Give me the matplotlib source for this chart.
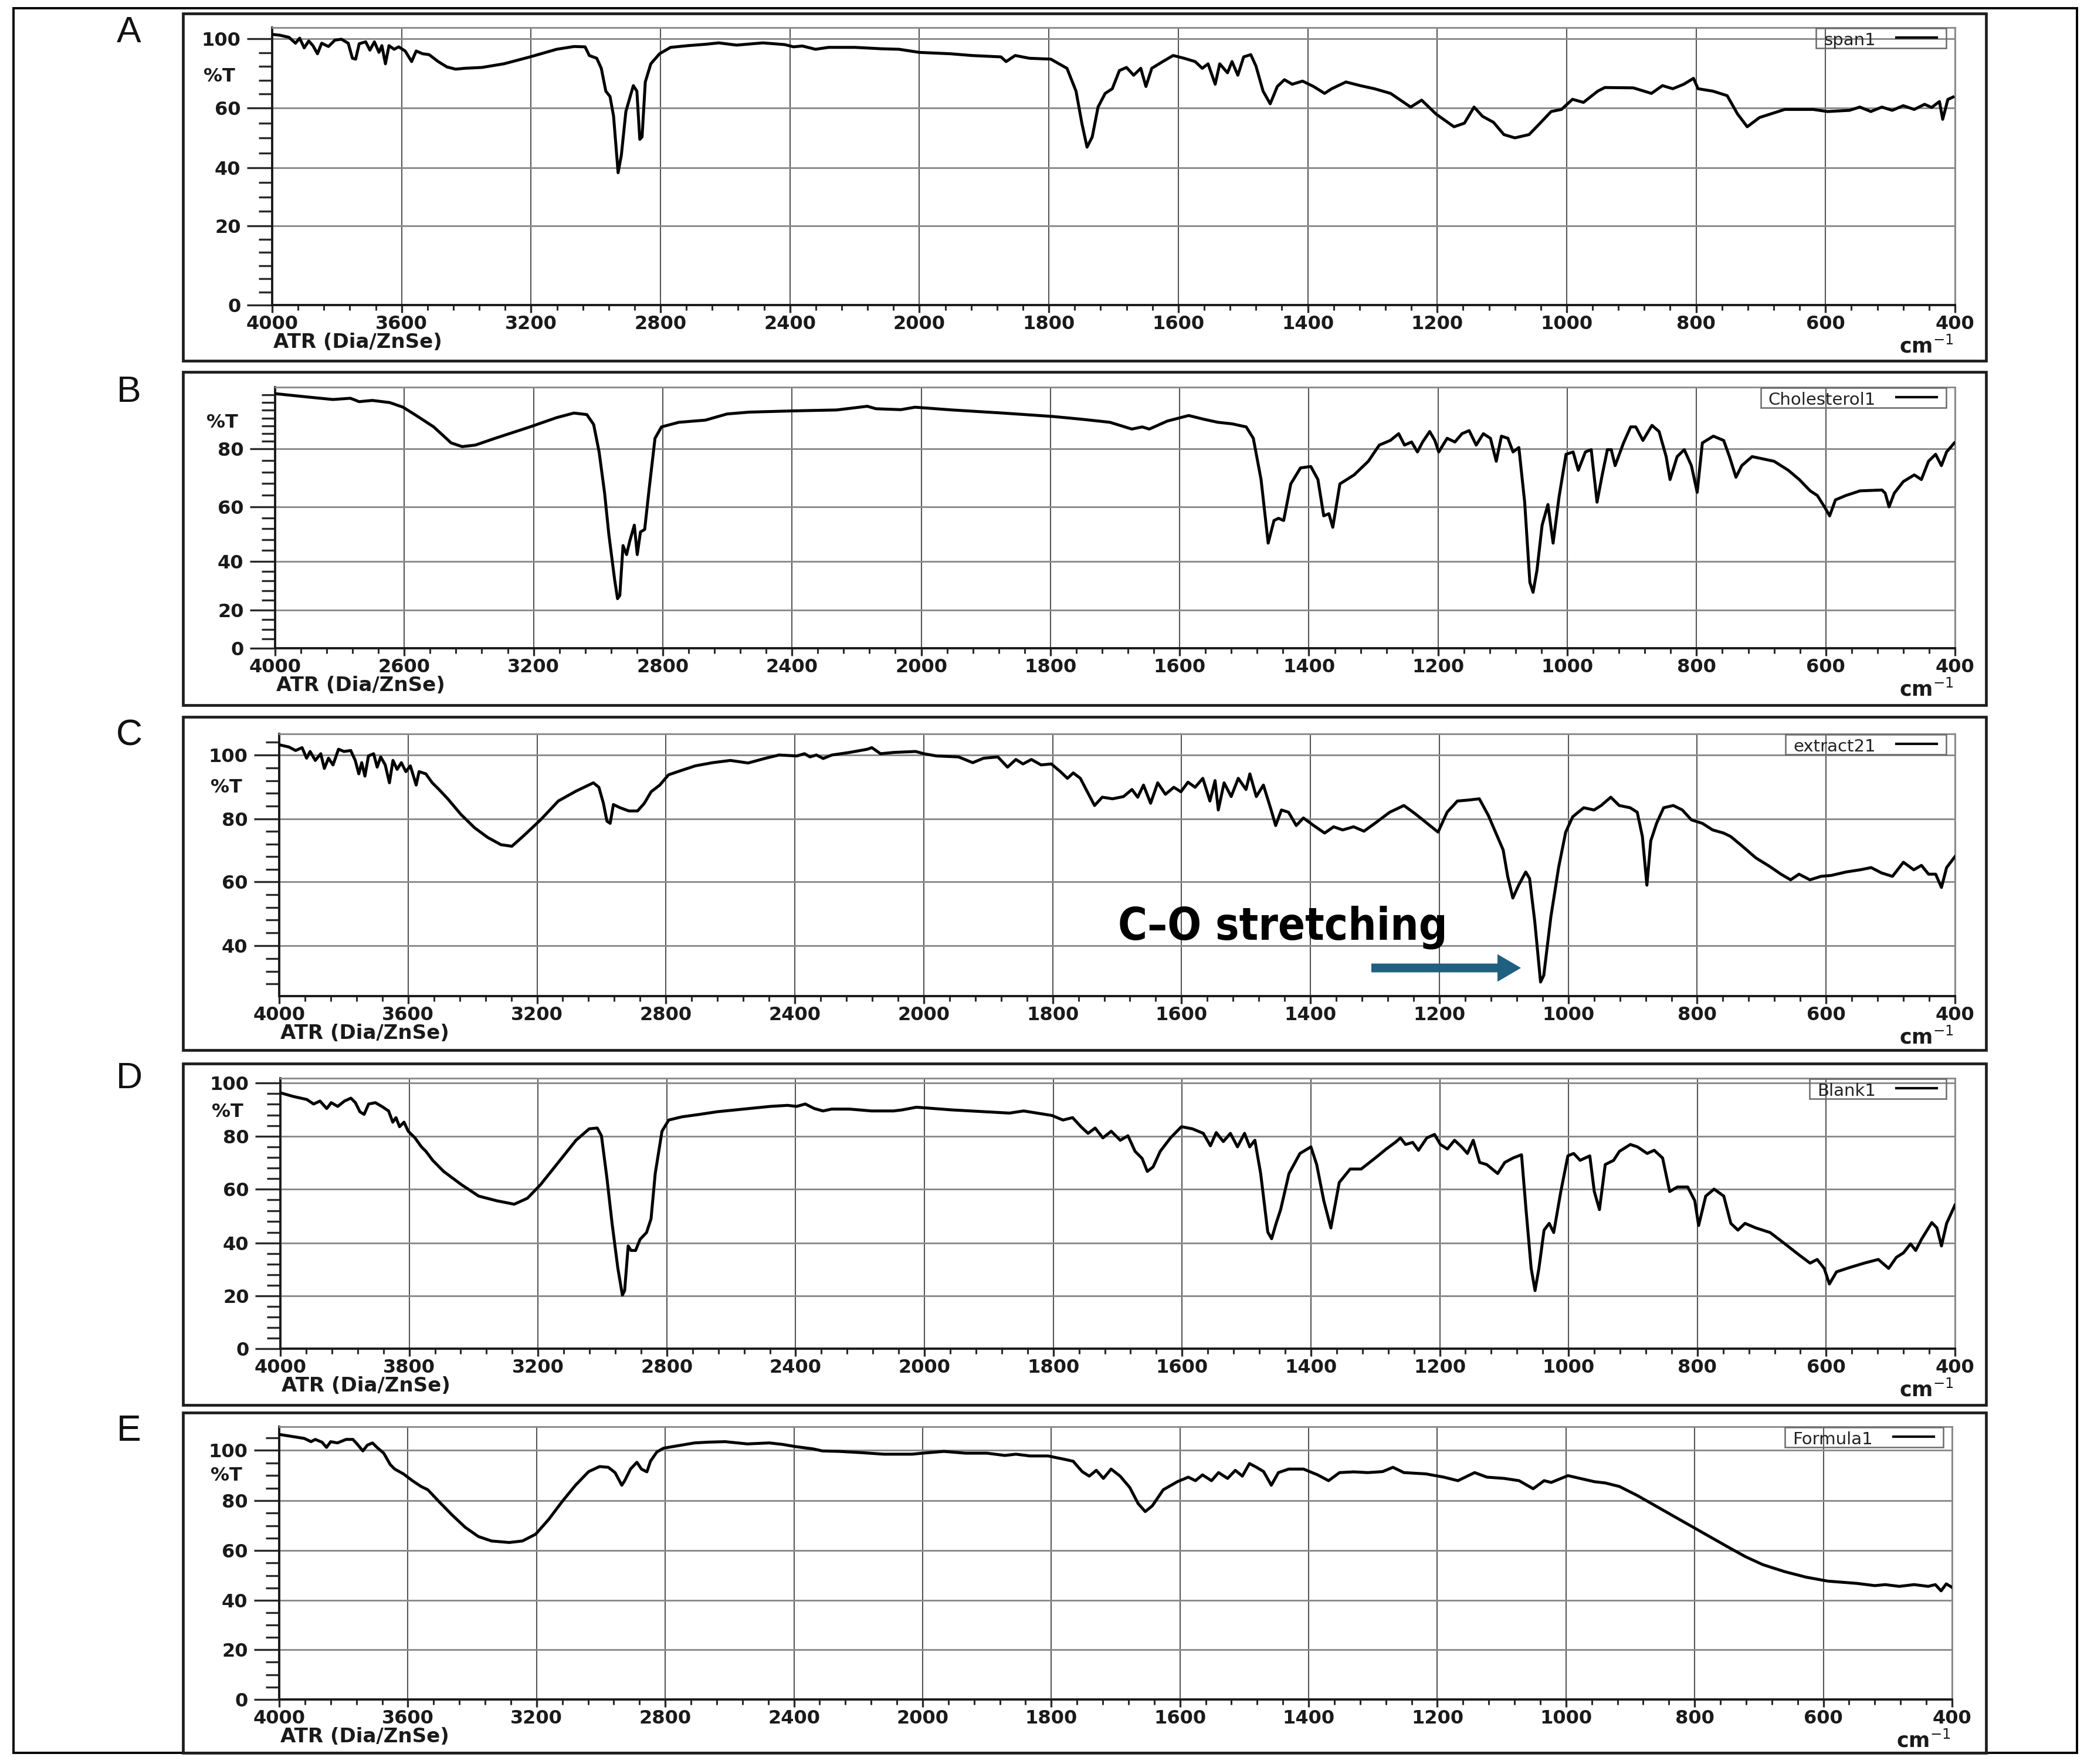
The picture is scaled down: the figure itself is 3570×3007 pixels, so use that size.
import numpy as np
import matplotlib
matplotlib.use("Agg")
import matplotlib.pyplot as plt
from matplotlib.patches import Rectangle, FancyArrow
from matplotlib.lines import Line2D

plt.rcParams['font.family'] = ['DejaVu Sans']

W, H = 3570, 3007

# ---- spectra: wavenumber (cm-1) and %T ----
span_wn = [4000, 3976, 3948, 3928, 3915, 3901, 3887, 3874, 3860, 3847,
           3826, 3806, 3786, 3765, 3752, 3742, 3731, 3711, 3698, 3684,
           3670, 3661, 3650, 3639, 3623, 3609, 3589, 3569, 3555, 3535,
           3515, 3487, 3460, 3433, 3406, 3352, 3284, 3203, 3121, 3067,
           3033, 3020, 2997, 2983, 2969, 2956, 2945, 2931, 2921, 2907,
           2884, 2873, 2864, 2857, 2847, 2830, 2803, 2769, 2715, 2660,
           2620, 2565, 2484, 2416, 2389, 2362, 2321, 2281, 2199, 2118,
           2063, 2000, 1952, 1919, 1874, 1866, 1852, 1830, 1797, 1772,
           1758, 1749, 1741, 1733, 1724, 1713, 1702, 1691, 1680, 1669,
           1658, 1650, 1641, 1624, 1608, 1591, 1574, 1563, 1554, 1543,
           1536, 1524, 1517, 1508, 1499, 1488, 1480, 1469, 1458, 1447,
           1436, 1424, 1408, 1391, 1374, 1363, 1341, 1319, 1297, 1272,
           1241, 1224, 1202, 1174, 1158, 1143, 1130, 1113, 1097, 1080,
           1058, 1041, 1024, 1008, 991, 974, 952, 941, 897, 869,
           852, 836, 819, 804, 797, 774, 752, 736, 721, 702,
           663, 619, 597, 563, 547, 530, 513, 497, 480, 463,
           447, 436, 424, 419, 411, 403]
span_t = [102.5, 102.0, 100.8, 97.4, 100.3, 94.7, 98.7, 96.0, 91.3, 97.4,
          95.5, 99.2, 99.7, 97.4, 88.7, 88.2, 97.1, 98.2, 93.4, 98.2,
          92.1, 96.0, 85.5, 96.0, 93.9, 95.3, 92.9, 86.8, 92.9, 91.3,
          90.8, 86.8, 83.7, 82.4, 82.9, 83.4, 85.5, 89.5, 93.9, 95.5,
          95.3, 90.3, 88.7, 82.9, 69.7, 66.6, 57.2, 38.3, 44.2, 58.8,
          72.9, 69.7, 49.5, 50.3, 75.0, 85.5, 91.3, 95.0, 96.0, 96.8,
          97.6, 96.3, 97.6, 96.6, 95.3, 95.8, 93.9, 95.0, 95.0, 94.2,
          93.9, 92.1, 91.3, 90.3, 89.5, 86.8, 90.3, 88.7, 88.2, 82.9,
          69.7, 54.9, 46.9, 50.3, 60.5, 68.4, 71.1, 81.6, 83.4, 78.9,
          82.9, 72.4, 82.9, 86.8, 90.3, 88.7, 86.8, 82.9, 85.5, 73.7,
          85.5, 80.3, 86.8, 78.9, 89.5, 90.8, 84.2, 69.7, 62.4, 72.4,
          76.3, 73.7, 75.5, 72.4, 68.4, 71.1, 75.0, 72.9, 71.1, 68.4,
          60.5, 64.5, 58.0, 53.7, 54.9, 60.5, 57.2, 55.2, 51.1, 50.0,
          51.1, 54.9, 58.8, 59.5, 65.0, 63.2, 69.7, 71.8, 71.6, 68.4,
          72.9, 71.1, 73.7, 77.1, 71.1, 69.7, 67.1, 58.0, 53.7, 56.8,
          59.5, 59.5, 58.8, 59.2, 60.5, 58.8, 60.5, 59.2, 61.3, 59.5,
          62.1, 60.3, 63.7, 56.2, 64.9, 66.3]

chol_wn = [4000, 3889, 3821, 3767, 3740, 3699, 3645, 3604, 3563, 3509,
           3455, 3421, 3380, 3319, 3211, 3129, 3075, 3035, 3014, 2997,
           2980, 2967, 2949, 2940, 2933, 2923, 2912, 2902, 2888, 2879,
           2869, 2856, 2842, 2824, 2804, 2750, 2668, 2601, 2533, 2397,
           2262, 2167, 2140, 2063, 2019, 1952, 1874, 1797, 1752, 1708,
           1674, 1658, 1647, 1619, 1586, 1563, 1541, 1519, 1497, 1486,
           1474, 1463, 1454, 1447, 1439, 1428, 1413, 1397, 1386, 1377,
           1369, 1363, 1352, 1330, 1308, 1291, 1274, 1261, 1252, 1241,
           1232, 1224, 1213, 1205, 1199, 1186, 1174, 1163, 1152, 1141,
           1130, 1119, 1110, 1102, 1092, 1084, 1075, 1066, 1058, 1053,
           1047, 1039, 1030, 1022, 1013, 1002, 991, 983, 972, 963,
           954, 946, 938, 932, 926, 913, 902, 894, 883, 869,
           858, 847, 841, 830, 819, 808, 799, 791, 774, 758,
           749, 739, 730, 714, 697, 680, 658, 641, 624, 613,
           602, 594, 585, 569, 547, 513, 508, 502, 494, 480,
           463, 452, 441, 430, 421, 413, 401]
chol_t = [97.9, 96.7, 96.0, 96.4, 95.3, 95.7, 95.0, 93.5, 90.8, 87.1,
          81.9, 80.7, 81.2, 83.4, 87.1, 90.1, 91.6, 91.1, 87.9, 78.9,
          64.7, 50.0, 32.5, 24.7, 26.0, 45.8, 42.5, 47.5, 53.3, 42.5,
          50.8, 51.7, 66.3, 83.4, 87.1, 88.6, 89.3, 91.3, 91.9, 92.3,
          92.6, 93.8, 93.0, 92.7, 93.5, 92.6, 91.6, 90.5, 89.6, 88.6,
          86.4, 87.1, 86.4, 89.0, 90.8, 89.6, 88.6, 88.1, 87.1, 83.4,
          69.4, 46.7, 55.0, 55.8, 55.0, 67.9, 73.4, 73.9, 69.4, 56.7,
          57.5, 52.5, 67.9, 71.0, 75.7, 81.2, 82.7, 84.9, 81.2, 82.2,
          78.9, 82.2, 85.6, 82.7, 78.9, 83.4, 82.2, 84.9, 85.9, 81.2,
          84.9, 83.4, 75.7, 84.1, 83.4, 78.9, 80.4, 61.6, 31.4, 27.3,
          36.3, 53.3, 60.8, 46.7, 63.1, 78.1, 78.9, 72.6, 78.9, 79.7,
          61.6, 71.0, 79.7, 79.7, 74.2, 81.9, 87.1, 87.1, 82.7, 87.6,
          85.6, 77.3, 69.4, 77.3, 79.7, 74.2, 65.0, 81.9, 84.1, 82.7,
          77.3, 70.2, 74.2, 77.3, 76.5, 75.7, 72.6, 69.4, 65.5, 63.9,
          60.0, 56.7, 62.4, 63.9, 65.5, 65.8, 64.7, 60.0, 64.7, 68.7,
          71.0, 69.4, 75.7, 78.1, 74.2, 78.9, 81.9]

extract_wn = [4000, 3970, 3949, 3929, 3915, 3904, 3888, 3871, 3860, 3847,
              3833, 3816, 3799, 3778, 3764, 3753, 3744, 3734, 3723, 3707,
              3696, 3685, 3671, 3658, 3647, 3634, 3621, 3607, 3593, 3575,
              3566, 3545, 3525, 3504, 3477, 3436, 3394, 3353, 3312, 3278,
              3244, 3189, 3134, 3079, 3025, 3008, 2994, 2983, 2973, 2963,
              2942, 2915, 2888, 2867, 2846, 2819, 2792, 2751, 2709, 2655,
              2600, 2545, 2490, 2449, 2394, 2370, 2353, 2333, 2312, 2285,
              2230, 2175, 2161, 2134, 2093, 2025, 2000, 1980, 1946, 1924,
              1907, 1885, 1870, 1857, 1846, 1833, 1818, 1802, 1788, 1777,
              1768, 1757, 1748, 1735, 1723, 1707, 1690, 1677, 1668, 1659,
              1648, 1637, 1625, 1612, 1601, 1590, 1579, 1567, 1556, 1548,
              1543, 1534, 1523, 1512, 1500, 1494, 1484, 1473, 1461, 1454,
              1445, 1434, 1422, 1411, 1395, 1378, 1364, 1350, 1333, 1317,
              1300, 1277, 1255, 1238, 1219, 1202, 1188, 1172, 1155, 1138,
              1124, 1110, 1101, 1094, 1086, 1077, 1066, 1060, 1052, 1043,
              1038, 1027, 1015, 1004, 993, 976, 960, 949, 934, 921,
              904, 893, 885, 878, 872, 863, 852, 837, 823, 809,
              792, 776, 759, 748, 731, 709, 687, 670, 655, 642,
              625, 608, 592, 569, 547, 530, 514, 497, 480, 464,
              452, 441, 430, 421, 413, 400]
extract_t = [103.2, 102.5, 101.4, 102.3, 99.0, 101.1, 98.3, 100.4, 95.8, 99.0,
             96.9, 101.8, 101.1, 101.4, 98.3, 94.1, 97.6, 93.4, 99.7, 100.4,
             96.2, 99.4, 96.9, 91.3, 98.3, 95.5, 97.6, 94.8, 96.6, 90.6,
             94.8, 94.1, 91.3, 89.2, 86.3, 81.4, 77.2, 74.1, 71.8, 71.3,
             74.4, 79.7, 85.6, 88.7, 91.3, 89.9, 84.9, 79.3, 78.6, 84.5,
             83.5, 82.5, 82.5, 84.9, 88.5, 90.6, 93.8, 95.2, 96.6, 97.6,
             98.3, 97.5, 99.0, 100.0, 99.7, 100.4, 99.4, 100.0, 98.9, 100.0,
             100.8, 101.8, 102.3, 100.4, 100.8, 101.1, 100.4, 99.7, 99.4, 97.6,
             99.0, 99.4, 96.2, 98.6, 97.2, 98.6, 96.9, 97.2, 94.8, 92.7,
             94.4, 92.7, 89.2, 84.2, 86.8, 86.3, 87.0, 89.2, 86.8, 90.6,
             84.9, 91.3, 87.7, 89.9, 88.5, 91.5, 89.9, 92.7, 85.6, 92.0,
             82.8, 91.3, 87.0, 92.7, 89.2, 94.1, 87.0, 90.6, 82.8, 77.9,
             82.8, 82.1, 77.9, 80.3, 77.9, 75.5, 77.5, 76.5, 77.5, 76.1,
             78.6, 82.1, 84.2, 81.7, 78.6, 75.8, 82.1, 85.6, 85.9, 86.3,
             81.1, 74.4, 70.1, 61.7, 54.9, 58.9, 63.1, 61.0, 47.6, 28.6,
             30.7, 49.0, 64.5, 75.8, 80.7, 83.5, 82.8, 84.2, 86.8, 84.2,
             83.5, 82.1, 74.4, 58.9, 73.0, 78.6, 83.5, 84.2, 82.8, 79.7,
             78.6, 76.5, 75.5, 74.4, 71.5, 67.6, 64.8, 62.4, 60.6, 62.4,
             60.6, 61.7, 62.0, 63.1, 63.8, 64.5, 62.8, 61.7, 66.2, 63.8,
             65.2, 62.4, 62.4, 58.2, 64.5, 68.0]

blank_wn = [4000, 3959, 3918, 3897, 3877, 3856, 3842, 3822, 3801, 3781,
            3767, 3753, 3740, 3726, 3705, 3685, 3664, 3651, 3641, 3630,
            3616, 3603, 3582, 3562, 3548, 3527, 3493, 3438, 3384, 3329,
            3274, 3233, 3192, 3137, 3082, 3041, 3016, 3003, 2986, 2970,
            2952, 2938, 2931, 2920, 2911, 2897, 2883, 2863, 2849, 2836,
            2815, 2794, 2753, 2699, 2644, 2562, 2479, 2425, 2397, 2370,
            2342, 2315, 2288, 2233, 2164, 2096, 2069, 2025, 1958, 1868,
            1846, 1802, 1785, 1770, 1757, 1746, 1735, 1723, 1710, 1696,
            1684, 1673, 1662, 1654, 1645, 1634, 1618, 1601, 1584, 1567,
            1556, 1547, 1536, 1525, 1514, 1503, 1495, 1487, 1478, 1467,
            1461, 1454, 1447, 1434, 1417, 1400, 1391, 1380, 1369, 1356,
            1339, 1322, 1300, 1283, 1269, 1261, 1253, 1242, 1233, 1220,
            1208, 1199, 1188, 1177, 1166, 1157, 1148, 1138, 1127, 1110,
            1099, 1086, 1073, 1066, 1058, 1052, 1046, 1038, 1030, 1023,
            1012, 1001, 992, 982, 967, 960, 952, 943, 930, 921,
            904, 893, 878, 867, 854, 843, 831, 815, 804, 798,
            787, 774, 759, 748, 737, 726, 709, 687, 664, 642,
            625, 614, 603, 595, 584, 564, 541, 519, 503, 491,
            480, 469, 461, 452, 436, 428, 421, 413, 400]
blank_t = [96.3, 94.9, 93.8, 92.1, 93.2, 90.4, 92.6, 91.2, 93.2, 94.3,
           92.6, 89.2, 88.2, 92.1, 92.6, 91.2, 89.5, 85.3, 87.0, 83.6,
           85.3, 81.9, 79.4, 76.0, 74.3, 70.9, 66.7, 61.7, 57.4, 55.7,
           54.4, 56.6, 61.7, 70.1, 78.5, 82.8, 83.1, 80.2, 64.2, 47.3,
           30.4, 20.3, 22.0, 38.9, 37.2, 37.2, 41.4, 43.9, 49.0, 65.9,
           81.9, 86.1, 87.3, 88.2, 89.2, 90.2, 91.2, 91.6, 91.2, 92.1,
           90.4, 89.5, 90.2, 90.2, 89.5, 89.5, 89.9, 90.9, 89.9, 88.7,
           89.5, 87.8, 86.1, 87.0, 83.6, 81.1, 83.1, 79.4, 81.9, 78.5,
           80.2, 74.3, 71.6, 66.7, 68.4, 74.3, 79.4, 83.6, 82.8, 81.1,
           76.4, 81.4, 78.0, 81.1, 76.0, 81.1, 76.0, 78.5, 65.9, 44.1,
           41.6, 47.3, 52.4, 65.9, 73.5, 76.0, 69.3, 55.7, 45.6, 62.5,
           67.6, 67.6, 71.8, 75.2, 77.7, 79.4, 76.9, 77.7, 74.7, 79.4,
           80.7, 76.9, 75.2, 78.5, 76.0, 73.5, 78.5, 70.1, 69.3, 65.9,
           70.1, 71.8, 73.0, 52.4, 30.4, 22.0, 30.4, 44.8, 47.3, 43.9,
           59.1, 72.6, 73.5, 70.9, 72.6, 59.1, 52.4, 69.3, 70.9, 74.3,
           76.9, 76.0, 73.5, 74.7, 71.8, 59.1, 60.8, 60.8, 55.7, 46.5,
           57.4, 60.0, 57.4, 47.3, 44.8, 47.3, 45.6, 43.9, 39.7, 35.5,
           32.4, 33.8, 30.4, 24.5, 29.1, 30.7, 32.4, 33.8, 30.4, 34.6,
           36.3, 39.7, 37.2, 41.4, 47.6, 45.6, 38.9, 47.3, 54.1]

formula_wn = [4000, 3956, 3922, 3901, 3888, 3867, 3853, 3840, 3819, 3792,
              3771, 3758, 3740, 3726, 3710, 3696, 3675, 3655, 3641, 3614,
              3586, 3559, 3538, 3504, 3463, 3422, 3381, 3340, 3285, 3244,
              3203, 3162, 3120, 3079, 3038, 3004, 2977, 2956, 2935, 2926,
              2908, 2888, 2874, 2857, 2846, 2826, 2805, 2764, 2709, 2668,
              2614, 2545, 2477, 2435, 2394, 2340, 2312, 2257, 2189, 2120,
              2079, 2033, 2000, 1967, 1933, 1900, 1872, 1855, 1833, 1805,
              1782, 1766, 1752, 1741, 1730, 1719, 1707, 1693, 1678, 1665,
              1654, 1643, 1626, 1604, 1587, 1576, 1565, 1551, 1540, 1526,
              1514, 1503, 1492, 1481, 1470, 1458, 1447, 1431, 1408, 1386,
              1369, 1352, 1330, 1308, 1285, 1269, 1252, 1218, 1190, 1168,
              1142, 1123, 1096, 1073, 1051, 1034, 1023, 997, 978, 956,
              939, 917, 889, 861, 833, 805, 777, 749, 721, 694,
              660, 627, 593, 548, 520, 504, 482, 459, 437, 426,
              417, 409, 400]
formula_t = [106.3, 105.4, 104.7, 103.4, 104.3, 103.2, 101.1, 103.4, 102.9, 104.3,
             104.3, 102.5, 99.7, 102.0, 102.9, 101.1, 98.8, 94.3, 92.5, 90.6,
             87.9, 85.6, 84.3, 79.7, 74.3, 69.3, 65.6, 63.8, 63.2, 63.8,
             66.5, 72.5, 79.7, 86.1, 91.5, 93.5, 93.2, 91.1, 86.1, 87.9,
             92.5, 95.2, 92.5, 91.4, 95.6, 99.3, 100.8, 101.7, 102.9, 103.2,
             103.4, 102.5, 102.9, 102.3, 101.4, 100.5, 99.7, 99.5, 99.0, 98.4,
             98.4, 98.4, 98.8, 99.5, 98.8, 98.8, 97.9, 98.4, 97.7, 97.7,
             96.5, 95.6, 91.5, 89.7, 92.0, 88.8, 92.5, 89.7, 85.2, 78.8,
             75.6, 77.9, 84.3, 87.5, 89.3, 87.9, 90.2, 87.9, 91.1, 88.8,
             92.0, 89.7, 94.7, 93.2, 91.5, 86.1, 91.1, 92.5, 92.5, 90.2,
             87.9, 91.1, 91.4, 91.1, 91.5, 93.2, 91.1, 90.6, 89.3, 87.9,
             91.1, 89.3, 88.8, 87.9, 84.7, 87.9, 87.2, 89.9, 88.8, 87.5,
             87.0, 85.6, 82.0, 77.9, 73.8, 69.7, 65.6, 61.5, 57.5, 54.3,
             51.5, 49.3, 47.7, 46.8, 45.9, 46.3, 45.6, 46.3, 45.6, 46.3,
             43.8, 46.6, 45.2]

xtick_vals = [4000, 3600, 3200, 2800, 2400, 2000, 1800, 1600, 1400, 1200, 1000, 800, 600, 400]
xlabels = ["4000", "3600", "3200", "2800", "2400", "2000", "1800", "1600",
           "1400", "1200", "1000", "800", "600", "400"]
xlabels_b = ["4000", "2600"] + xlabels[2:]
xlabels_d = ["4000", "3800"] + xlabels[2:]


def wn_fwd(w):
    w = np.asarray(w, dtype=float)
    return np.where(w > 2000, 2000 + (w - 2000) / 2.0, w)


def wn_inv(u):
    u = np.asarray(u, dtype=float)
    return np.where(u > 2000, 2000 + (u - 2000) * 2.0, u)


def y_funcs(vals, pos):
    v = np.asarray(vals, float)
    p = np.asarray(pos, float)
    s0 = (p[1] - p[0]) / (v[1] - v[0])
    s1 = (p[-1] - p[-2]) / (v[-1] - v[-2])
    v = np.concatenate([[v[0] - 1e4], v, [v[-1] + 1e4]])
    p = np.concatenate([[p[0] - 1e4 * s0], p, [p[-1] + 1e4 * s1]])
    return (lambda x: np.interp(x, v, p)), (lambda y: np.interp(y, p, v))


# panel geometry in pixels of the 3570x3007 canvas
panels = [
    dict(letter="A", name="span1", wn=span_wn, t=span_t, box=(23, 615), left=464, right=3333,
         yvals=[0, 20, 40, 60, 100, 106.4], yrows=[520, 385, 286, 184, 66, 47],
         yticks=[0, 20, 40, 60, 100], xl=xlabels, pct=130, let_y=55,
         minor=np.r_[np.linspace(0, 20, 7)[1:-1], 25, 30, 35, 45, 50, 55, np.linspace(60, 100, 6)[1:-1]]),
    dict(letter="B", name="Cholesterol1", wn=chol_wn, t=chol_t, box=(634, 1202), left=469, right=3333,
         yvals=[0, 20, 40, 60, 80, 100], yrows=[1105, 1040, 957, 864, 765, 660],
         yticks=[0, 20, 40, 60, 80], xl=xlabels_b, pct=720, let_y=668,
         minor=np.r_[5, 10, 15, np.arange(24, 80, 4), np.arange(82.5, 100, 2.5)]),
    dict(letter="C", name="extract21", wn=extract_wn, t=extract_t, box=(1222, 1790), left=476, right=3333,
         yvals=[24.2, 40, 60, 80, 100, 106.6], yrows=[1698, 1612, 1503, 1396, 1287, 1251],
         yticks=[40, 60, 80, 100], xl=xlabels, pct=1342, let_y=1254,
         minor=np.arange(28, 106, 4)),
    dict(letter="D", name="Blank1", wn=blank_wn, t=blank_t, box=(1813, 2395), left=478, right=3333,
         yvals=[0, 20, 40, 60, 80, 100, 101.8], yrows=[2299, 2209, 2119, 2027, 1937, 1846, 1838],
         yticks=[0, 20, 40, 60, 80, 100], xl=xlabels_d, pct=1895, let_y=1838,
         minor=np.arange(4, 100, 4)),
    dict(letter="E", name="Formula1", wn=formula_wn, t=formula_t, box=(2408, 2988), left=476, right=3328,
         yvals=[0, 20, 40, 60, 80, 100, 109.4], yrows=[2897, 2812, 2728, 2643, 2558, 2472, 2432],
         yticks=[0, 20, 40, 60, 80, 100], xl=xlabels, pct=2516, let_y=2440,
         minor=np.arange(5, 109, 5)),
]

xminor = np.r_[np.arange(2000, 4000, 80), np.arange(400, 2000, 40)]
TICK_FS = 23

fig = plt.figure(figsize=(W / 100, H / 100), dpi=100)
fig.patch.set_facecolor("white")

for p in panels:
    bottom, top = p["yrows"][0], p["yrows"][-1]
    ax = fig.add_axes([p["left"] / W, 1 - bottom / H, (p["right"] - p["left"]) / W, (bottom - top) / H])
    fwd, inv = y_funcs(p["yvals"], [bottom - r for r in p["yrows"]])
    ax.set_xscale("function", functions=(wn_fwd, wn_inv))
    ax.set_yscale("function", functions=(fwd, inv))
    ax.plot(p["wn"], p["t"], color="black", lw=3.6, solid_joinstyle="round", zorder=3)
    ax.set_xlim(4000, 400)
    ax.set_ylim(p["yvals"][0], p["yvals"][-1])
    ax.set_xticks(xtick_vals, labels=p["xl"], fontweight="bold", fontsize=TICK_FS, color="#1a1a1a")
    ax.set_xticks(xminor, minor=True)
    ax.set_yticks(p["yticks"], labels=[str(v) for v in p["yticks"]], fontweight="bold",
                  fontsize=TICK_FS, color="#1a1a1a")
    ax.set_yticks(p["minor"], minor=True)
    ax.tick_params(axis="y", which="major", length=31, width=2.4, pad=7.5, color="#2a2a2a")
    ax.tick_params(axis="y", which="minor", length=16.5, width=2.4, color="#2a2a2a")
    ax.tick_params(axis="x", which="major", length=9.5, width=2.4, pad=3.0, color="#2a2a2a")
    ax.tick_params(axis="x", which="minor", length=6.5, width=2.2, color="#2a2a2a")
    ax.grid(True, which="major", axis="x", color="#555555", lw=1.5)
    ax.grid(True, which="major", axis="y", color="#8a8a8a", lw=2.1)
    for s in ("left", "bottom"):
        ax.spines[s].set_color("#1a1a1a")
        ax.spines[s].set_linewidth(2.8)
    for s in ("top", "right"):
        ax.spines[s].set_color("#8a8a8a")
        ax.spines[s].set_linewidth(2.1)
    p["top"], p["bottom"] = top, bottom

# overlay for frames, labels, legends and the annotation (pixel coordinates)
ov = fig.add_axes([0, 0, 1, 1])
ov.set_xlim(0, W)
ov.set_ylim(H, 0)
ov.axis("off")
ov.add_patch(Rectangle((23, 14), 3541 - 23, 2988 - 14, fill=False, lw=2.8, ec="black"))

renderer = fig.canvas.get_renderer()
for p in panels:
    b0, b1 = p["box"]
    ov.add_patch(Rectangle((312, b0), 3386 - 312, b1 - b0, fill=False, lw=3.4, ec="#1e1e1e"))
    ov.text(220, p["let_y"], p["letter"], ha="center", va="center", fontsize=45,
            family=["Liberation Sans", "DejaVu Sans"], color="#111111")
    ov.text(p["left"] - 63, p["pct"], "%T", ha="right", va="center", fontsize=TICK_FS,
            fontweight="bold", color="#1a1a1a")
    ov.text(p["left"] + 2, p["bottom"] + 63, "ATR (Dia/ZnSe)", ha="left", va="center",
            fontsize=24.5, fontweight="bold", color="#1a1a1a")
    ov.text(p["right"] - 2, p["bottom"] + 70, "cm$^{-1}$", ha="right", va="center",
            fontsize=25, fontweight="bold", color="#1a1a1a")
    # legend box: text then a short line sample on the right
    r, tp = p["right"], p["top"]
    txt = ov.text(r - 135, tp + 19, p["name"], ha="right", va="center_baseline", fontsize=21,
                  color="#222222")
    bb = txt.get_window_extent(renderer)
    ov.add_patch(Rectangle((bb.x0 - 13, tp + 1), (r - 15) - (bb.x0 - 13), 34, fill=False,
                           ec="#6a6a6a", lw=1.8))
    ov.add_line(Line2D([r - 100, r - 31], [tp + 17, tp + 17], color="black", lw=3.0))

# annotation in panel C, sized to the width it takes in the figure
co = ov.text(1906, 1601, "C\u2013O stretching", ha="left", va="baseline", fontsize=66,
             fontweight="bold", fontstretch="condensed",
             family=["DejaVu Sans Condensed", "DejaVu Sans"], color="black")
cw = co.get_window_extent(renderer).width
co.set_fontsize(66 * 562 / cw)
ov.add_patch(FancyArrow(2338, 1650, 255, 0, width=15, head_width=47, head_length=40,
                        length_includes_head=True, color="#1f5f80", lw=0))

fig.savefig("out.png", dpi=100, facecolor="white")
